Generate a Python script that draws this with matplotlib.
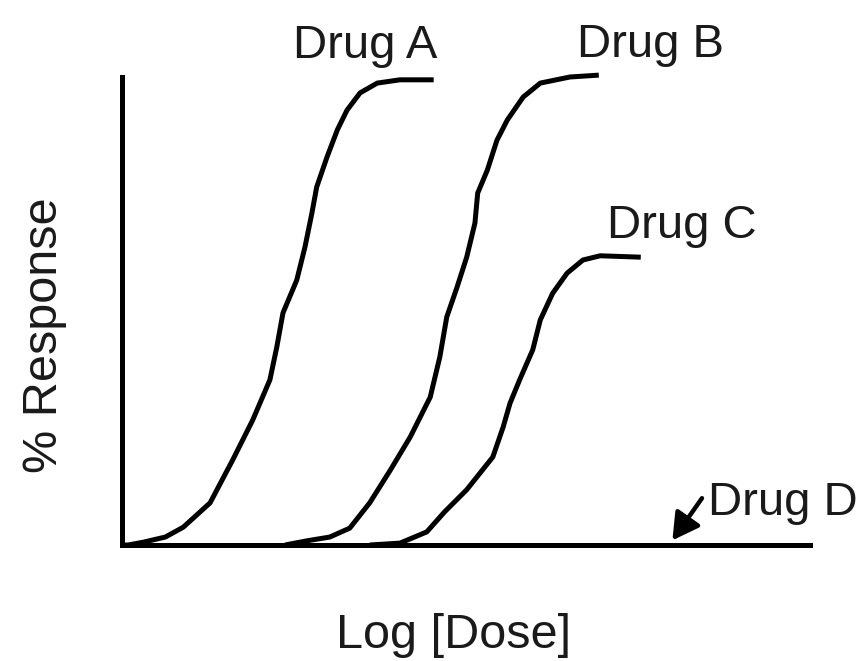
import matplotlib
matplotlib.use("Agg")
import matplotlib.pyplot as plt

# Log dose (arbitrary units) vs % response
drug_a_x = [0.0, 0.09, 0.31, 0.63, 0.89, 1.28, 1.61, 1.90, 2.15, 2.25, 2.34, 2.54, 2.66, 2.76, 2.83, 2.98, 3.13, 3.27, 3.46, 3.71, 4.04, 4.53]
drug_a_y = [0.0, 0.0, 0.6, 1.7, 3.8, 9.0, 18.2, 26.7, 35.3, 42.3, 49.6, 56.6, 63.7, 70.9, 76.5, 82.9, 88.7, 92.9, 96.6, 98.7, 99.4, 99.4]

drug_b_x = [2.37, 2.69, 3.02, 3.31, 3.60, 3.90, 4.19, 4.48, 4.62, 4.72, 4.87, 5.01, 5.13, 5.17, 5.31, 5.45, 5.60, 5.83, 6.08, 6.51, 6.93]
drug_b_y = [0.0, 0.9, 1.7, 3.6, 9.0, 16.0, 23.1, 31.6, 40.2, 48.7, 55.1, 61.5, 68.8, 75.2, 80.1, 86.5, 90.8, 95.7, 98.7, 100.0, 100.4]

drug_c_x = [3.60, 4.04, 4.43, 4.69, 5.01, 5.39, 5.54, 5.64, 5.78, 5.97, 6.08, 6.26, 6.47, 6.70, 6.95, 7.54]
drug_c_y = [0.0, 0.4, 2.8, 7.1, 11.8, 18.8, 25.2, 30.3, 35.3, 41.7, 48.1, 53.8, 58.1, 60.9, 61.8, 61.5]

drug_d_x = [0.0, 10.0]
drug_d_y = [0.0, 0.0]

labels = ["Drug A", "Drug B", "Drug C", "Drug D"]
x_label = "Log [Dose]"
y_label = "% Response"

FONT = "Liberation Sans"
W, H = 862, 661
fig = plt.figure(figsize=(W / 100, H / 100), dpi=100)
ax = fig.add_axes([122 / W, 1 - 545 / H, 688 / W, 468 / H])
ax.set_xlim(0, 10)
ax.set_ylim(0, 100)
for s in ["top", "right"]:
    ax.spines[s].set_visible(False)
for s in ["left", "bottom"]:
    ax.spines[s].set_linewidth(3.6)
    ax.spines[s].set_color("black")
ax.set_xticks([])
ax.set_yticks([])

lw = 3.6
for xs, ys in [(drug_a_x, drug_a_y), (drug_b_x, drug_b_y), (drug_c_x, drug_c_y)]:
    ax.plot(xs, ys, color="black", lw=lw, clip_on=False,
            solid_capstyle="butt", solid_joinstyle="round")
ax.plot(drug_d_x, drug_d_y, color="black", lw=3.6, clip_on=False)

fs = 34
tc = "#1a1a1a"
ax.text(2.49, 104.1, labels[0], fontsize=fs, family=FONT, color=tc, ha="left", va="baseline", clip_on=False)
ax.text(6.61, 104.3, labels[1], fontsize=fs, family=FONT, color=tc, ha="left", va="baseline", clip_on=False)
ax.text(7.05, 65.6, labels[2], fontsize=fs, family=FONT, color=tc, ha="left", va="baseline", clip_on=False)
ax.text(8.52, 6.4, labels[3], fontsize=fs, family=FONT, color=tc, ha="left", va="baseline", clip_on=False)

ax.annotate("", xy=(8.0, 1.0), xytext=(8.43, 10.0),
            arrowprops=dict(arrowstyle="-|>,head_length=0.8,head_width=0.45",
                            mutation_scale=20, color="black", lw=3.2,
                            shrinkA=0, shrinkB=0),
            annotation_clip=False)

fig.text(454 / W, 1 - 648 / H, x_label, fontsize=35, family=FONT, color=tc, ha="center", va="baseline")
fig.text(45 / W, 1 - 335 / H, y_label, fontsize=35, family=FONT, color=tc, ha="center", va="center", rotation=90)

fig.savefig("out.png", dpi=100, facecolor="white")
